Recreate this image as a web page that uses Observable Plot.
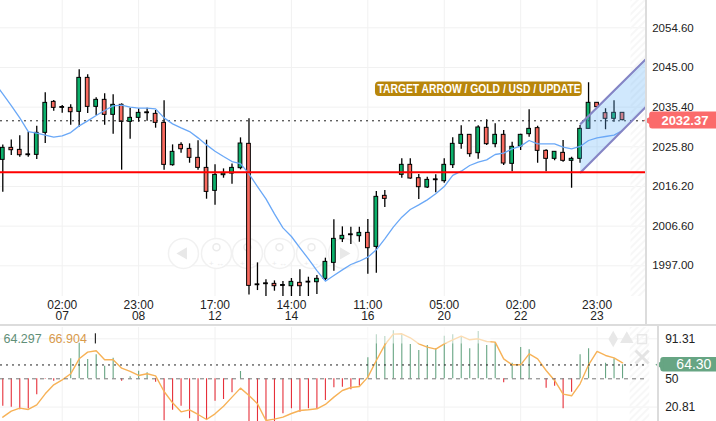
<!DOCTYPE html>
<html><head><meta charset="utf-8">
<script src="https://cdn.jsdelivr.net/npm/d3@7"></script>
<script src="https://cdn.jsdelivr.net/npm/@observablehq/plot@0.6"></script>
<style>
html,body{margin:0;padding:0;background:#fff;overflow:hidden}
#c{position:relative;width:716px;height:421px;font-family:"Liberation Sans",Arial,sans-serif}
#c svg{position:absolute;left:0;overflow:hidden;background:transparent}
.b{position:absolute;background:#dcdcdc}
</style></head><body><div id="c"></div>
<script>
const opens=[2022.64,2025.55,2025.06,2023.77,2023.85,2029.18,2036.68,2035.23,2035.23,2034.26,2042.49,2035.47,2037.17,2033.54,2035.96,2031.84,2032.81,2033.94,2033.78,2031.6,2021.35,2026.27,2025.3,2023.13,2020.7,2015.14,2018.93,2019.33,2020.63,2026.52,1992.3,1992.55,1992.63,1992.14,1992.06,1992.87,1992.95,1993.03,1993.84,1997.71,2003.44,2004.41,2004.17,2004.97,2001.58,2013.93,null,2019.02,2021.44,2018.21,2015.95,2017.72,2017.48,2021.36,2026.52,2028.7,2024.26,2030.4,2026.44,2028.7,2021.68,2025.88,2028.86,2030.32,2024.83,2022.89,2024.34,2022.41,2022.89,2030.15,2036.45,2033.95,2032.58,2034.03];
const closes=[2025.55,2024.98,2023.77,2023.97,2029.18,2036.44,2035.23,2035.43,2034.18,2042.49,2035.47,2037.17,2033.54,2035.96,2031.84,2032.81,2034.02,2034.14,2031.6,2021.43,2024.58,2025.22,2023.13,2020.7,2014.89,2019.01,2019.33,2020.7,2026.6,1992.14,1992.5,1992.75,1992.06,1992.34,1993.11,1992.06,1993.15,1993.84,1997.95,2003.52,2004.25,2004.61,2004.97,2001.26,2013.69,2013.2,null,2021.44,2018.13,2016.03,2017.8,2017.92,2021.44,2026.52,2028.7,2024.02,2030.48,2026.44,2028.7,2021.76,2025.8,2028.7,2030.15,2024.83,2022.89,2024.59,2022.41,2022.89,2030.15,2036.45,2035.4,2032.58,2034.03,2032.25];
const highs=[2026.27,2027.48,2028.45,2029.34,2030.79,2038.86,2037.0,2035.8,2035.96,2044.43,2043.22,2037.65,2038.62,2038.38,2036.2,2035.15,2034.99,2035.15,2034.59,2036.93,2026.27,2026.76,2026.52,2027.24,2027.4,2021.43,2020.46,2021.67,2027.97,2032.57,1997.71,1993.6,1993.35,1993.19,1993.92,1996.02,1994.24,1994.64,1998.84,2008.12,2006.43,2006.35,2006.35,2008.2,2014.98,2015.22,null,2022.89,2022.89,2019.1,2018.45,2019.02,2022.89,2027.98,2030.88,2028.7,2030.88,2032.33,2031.37,2029.75,2026.93,2028.86,2034.75,2030.8,2025.07,2024.59,2027.33,2023.3,2030.96,2041.29,2036.45,2035.0,2036.93,2034.03];
const lows=[2014.81,2023.69,2023.29,2023.29,2022.72,2026.6,2034.42,2033.94,2031.03,2030.55,2033.86,2033.37,2031.03,2028.86,2020.14,2027.64,2031.76,2032.0,2030.31,2020.14,2021.11,2024.26,2021.83,2020.14,2013.12,2011.67,2018.2,2016.75,2020.23,1989.96,1991.01,1989.4,1990.85,1989.4,1989.4,1989.4,1989.4,1990.04,1993.43,1995.69,2002.63,2002.15,2002.71,1994.97,1995.21,2011.11,null,2018.21,2017.97,2013.04,2015.71,2014.66,2017.0,2020.55,2025.23,2023.3,2022.81,2026.12,2025.55,2021.28,2019.74,2024.91,2028.14,2021.84,2019.74,2022.41,2022.08,2015.79,2021.84,2030.15,2035.4,2029.91,2031.77,2032.09];
const average=[2041.44,2038.62,2035.8,2032.81,2029.5,2029.1,2028.61,2028.13,2028.45,2029.26,2030.87,2032.08,2033.37,2034.58,2035.72,2035.88,2035.39,2035.15,2035.15,2034.99,2032.81,2031.36,2030.39,2029.5,2027.97,2026.27,2024.74,2023.45,2022.24,2021.75,2019.26,2016.19,2013.2,2009.57,2006.18,2004.09,2001.34,1998.68,1995.85,1993.27,1994.64,1996.02,1997.31,1998.11,1999.08,2000.86,2003.52,2006.35,2008.77,2010.62,2011.75,2012.96,2014.42,2016.19,2018.9,2019.9,2021.28,2022.08,2022.65,2023.94,2024.26,2025.31,2025.96,2027.33,2026.52,2026.52,2026.52,2025.72,2025.31,2025.88,2027.33,2027.98,2028.3,2028.62,2029.75];
const histogram=[21.76,20.73,17.97,19.0,33.47,49.66,47.59,50,70.66,86.85,69.98,74.8,63.09,71.35,47.59,52.07,57.92,56.2,46.56,6.6,17.63,21.76,8.67,5.92,7.64,26.93,28.65,35.53,57.58,5.23,3.5,6.95,5.92,13.84,19.0,15.56,19.0,19.0,27.61,40.7,41.39,38.63,42.42,71.7,95.46,93.74,99.59,95.46,85.47,79.27,84.44,81.0,94.08,95.46,93.74,81.0,98.9,84.44,87.2,45.87,66.19,82.37,79.96,50,40.36,42.42,19.0,36.22,74.8,81.0,50,66.19,70.66,64.46];
const signal=[10.39,16.59,19.69,18.31,23.14,34.5,43.8,48.97,55.17,70.66,77.55,78.93,69.63,69.63,61.02,57.58,53.44,55.17,53.1,36.91,25.2,15.9,17.97,13.15,7.98,13.84,21.76,31.06,40.36,32.78,24.17,6.95,8.33,10.39,14.18,17.28,17.97,19.0,23.48,31.06,37.95,41.05,42.08,51.72,68.94,85.13,96.15,96.49,92.36,86.16,82.72,80.65,86.16,90.29,94.08,90.29,91.33,88.57,87.88,70.66,64.46,64.46,75.83,70.66,58.61,48.28,34.16,32.44,44.83,64.46,78.24,74.11,71.7,66.53];
const tickIdx=[7,16,25,34,43,52,61,70];
const tickTimes=["02:00","23:00","17:00","14:00","11:00","05:00","02:00","23:00"];
const tickDays=["07","08","12","14","16","20","22","23"];
const priceTicks=[2054.60,2045.00,2035.40,2025.80,2016.20,2006.60,1997.00];
const lastPrice="2032.37",priceLine=2032.1,support=2019.65;
const channelX=[68.08,75.8],channelLow=[2019.65,2035.56],channelHigh=[2031.37,2047.11];
const buttons=[21.28,25.17,28.82,32.59,36.36,40.13];
const oscTicks=[91.31,50,20.81];
const oscLast=64.30;
const banner="TARGET ARROW / GOLD / USD / UPDATE";

const GREEN="#0cb06b",RED="#f96a5f";
const candles=opens.map((o,i)=>({i,o,c:closes[i],h:highs[i],l:lows[i]})).filter(d=>d.o!=null);
const fillOf=d=>Math.abs(d.c-d.o)<=0.21?"#000":d.c>d.o?GREEN:RED;
const root=document.getElementById("c");
const hatch=(svg,id)=>{const p=d3.select(svg).insert("defs",":first-child").append("pattern").attr("id",id).attr("width",5).attr("height",5).attr("patternUnits","userSpaceOnUse").attr("patternTransform","rotate(45)");p.append("rect").attr("width",2).attr("height",5).attr("fill","#f7f7f7");};
const font={fontFamily:"'Liberation Sans',Arial,sans-serif"};

const main=Plot.plot({width:716,height:325,marginLeft:0,marginRight:70.3,marginTop:0,marginBottom:29,
 x:{domain:[-0.27,75.79],range:[0,645.7]},y:{domain:[1997,2045],range:[265.3,67]},style:{...font,background:"transparent"},
 marks:[
  Plot.gridX(tickIdx,{stroke:"#f1f1f1",strokeOpacity:1}),
  Plot.gridY(priceTicks,{stroke:"#f1f1f1",strokeOpacity:1}),
  Plot.rect([0],{x1:74,x2:75.79,y1:1975,y2:2065,fill:"url(#h1)",clip:true}),
  Plot.dot(buttons,{x:d=>d,y:2000,r:15,fill:"#fff",stroke:"#f1f1f1",strokeWidth:1.5}),
  Plot.dot(buttons.slice(1,5),{x:d=>d,y:2001,dy:-2,r:3.5,fill:"none",stroke:"#ebebeb",strokeWidth:1.5}),
  Plot.text(buttons.slice(1,5),{x:d=>d,y:1997.5,text:()=>"+ ↔",fill:"#ebebeb",fontSize:8}),
  Plot.dot([buttons[0],buttons[5]],{x:d=>d,y:2000,symbol:"triangle",r:4.5,rotate:(d,i)=>i?90:-90,fill:"#e8e8e8"}),
  Plot.ruleX(candles,{x:"i",y1:"l",y2:"h",stroke:"#000",strokeWidth:1.3,clip:true}),
  Plot.rect(candles,{x1:d=>d.i-0.22,x2:d=>d.i+0.22,y1:"o",y2:"c",fill:fillOf,stroke:"#000",strokeWidth:1,clip:true}),
  Plot.ruleY([priceLine],{stroke:"#222",strokeWidth:1,strokeDasharray:"2 4"}),
  Plot.areaY(channelX.map((x,i)=>({x,a:channelLow[i],b:channelHigh[i]})),{x:"x",y1:"a",y2:"b",fill:"#64b4fa",fillOpacity:.3,clip:true}),
  Plot.line(average.map((v,i)=>({x:i-1,v})),{x:"x",y:"v",stroke:"#6aa8f7",strokeWidth:1.3,clip:true}),
  Plot.line(channelX.map((x,i)=>({x,v:channelLow[i]})),{x:"x",y:"v",stroke:"#8585c5",strokeWidth:2.2,clip:true}),
  Plot.line(channelX.map((x,i)=>({x,v:channelHigh[i]})),{x:"x",y:"v",stroke:"#8585c5",strokeWidth:2.2,clip:true}),
  Plot.ruleY([support],{stroke:"#f00",strokeWidth:2.2}),
  Plot.rect([0],{x1:43.9,x2:68.25,y1:2041.5,y2:2038,fill:"#b8860b",rx:4}),
  Plot.text([banner],{x:56.1,y:2039.85,fill:"#fff",fontSize:12,fontWeight:"bold",className:"banner"}),
  Plot.axisX(tickIdx,{tickSize:0,tickPadding:4,lineHeight:0.95,fontSize:12,color:"#222",label:null,anchor:"bottom",tickFormat:d=>tickTimes[tickIdx.indexOf(d)]+"\n"+tickDays[tickIdx.indexOf(d)]}),
  Plot.axisY(priceTicks,{anchor:"right",tickSize:0,tickPadding:6,fontSize:11.5,color:"#222",label:null,tickFormat:d=>d.toFixed(2)}),
  Plot.rect([0],{x1:76.2,x2:84.4,y1:2030.1,y2:2034.2,fill:"#fb6b6b",rx:3}),
  Plot.dot([0],{x:76.2,y:2032.15,symbol:"triangle",r:4,rotate:-90,fill:"#fb6b6b"}),
  Plot.text([lastPrice],{x:80.35,y:2032.15,fill:"#fff",fontSize:13,fontWeight:"bold",style:"letter-spacing:.5px"})
 ]});
hatch(main,"h1");main.style.top="0";root.append(main);
d3.select(main).selectAll("text").filter(function(){return this.textContent===banner;}).attr("textLength",203).attr("lengthAdjust","spacingAndGlyphs");

const lower=Plot.plot({width:716,height:94,marginLeft:0,marginRight:58.3,marginTop:0,marginBottom:0,
 x:{domain:[-0.27,77.2],range:[0,657.7],axis:null},y:{domain:[5.9,103],range:[94,0]},style:{...font,background:"transparent"},
 marks:[
  Plot.gridX(tickIdx,{stroke:"#f1f1f1",strokeOpacity:1}),
  Plot.gridY([91.31,20.81],{stroke:"#f1f1f1",strokeOpacity:1}),
  Plot.rect([0],{x1:73.9,x2:76.2,y1:0,y2:110,fill:"url(#h2)",clip:true}),
  Plot.ruleX(histogram.map((v,i)=>({i,v})),{x:"i",y1:50,y2:"v",stroke:d=>d.v>=50?"#67a583":"#e6303a",strokeWidth:1.1,clip:true}),
  Plot.line(signal.map((v,i)=>({i,v})),{x:"i",y:"v",stroke:"#f7b257",strokeWidth:1.4,clip:true}),
  Plot.rect([0],{x1:43,x2:57.5,y1:86,y2:110,fill:"#fff",fillOpacity:.55,clip:true}),
  Plot.ruleY([oscLast],{x1:-0.27,x2:75.8,stroke:"#222",strokeWidth:1,strokeDasharray:"2 4"}),
  Plot.ruleY([50],{x1:-0.27,x2:75.8,stroke:"#777",strokeWidth:1,strokeDasharray:"4 4"}),
  Plot.axisY(oscTicks,{anchor:"right",tickSize:0,tickPadding:7,fontSize:12,color:"#222",label:null,tickFormat:d=>d===50?"50":d.toFixed(2)}),
  Plot.rect([0],{x1:77.5,x2:84.3,y1:57,y2:72,fill:"#67a583",rx:3}),
  Plot.dot([0],{x:77.5,y:64.5,symbol:"triangle",r:3.5,rotate:-90,fill:"#67a583"}),
  Plot.text([oscLast.toFixed(2)],{x:81.4,y:64.5,fill:"#fff",fontSize:14,style:"letter-spacing:.5px"}),
  Plot.text(["64.297"],{x:0.08,y:91,textAnchor:"start",fill:"#5f8f78",fontSize:12.5}),
  Plot.text(["66.904"],{x:5.4,y:91,textAnchor:"start",fill:"#d89a4c",fontSize:12.5}),
  Plot.ruleX([10.9],{y1:86,y2:96.5,stroke:"#000",strokeWidth:1}),
  Plot.dot([71.9],{x:d=>d,y:91,symbol:"diamond",r:5,fill:"#e8e8e8"}),
  Plot.dot([73.5],{x:d=>d,y:91,symbol:"triangle",r:5,fill:"#e8e8e8"}),
  Plot.dot([75.3],{x:d=>d,y:91,symbol:"square",r:5,fill:"none",stroke:"#e8e8e8",strokeWidth:1.5}),
  Plot.dot([75.3],{x:d=>d,y:72.5,symbol:"times",r:6,stroke:"#e4e4e4",strokeWidth:3})
 ]});
hatch(lower,"h2");lower.style.top="327px";root.append(lower);

[[0,324,716,2.2],[645,0,2,325],[657,325,2,96]].forEach(([x,y,w,h])=>{const d=document.createElement("div");d.className="b";d.style.cssText=`left:${x}px;top:${y}px;width:${w}px;height:${h}px`;root.append(d);});
</script></body></html>
